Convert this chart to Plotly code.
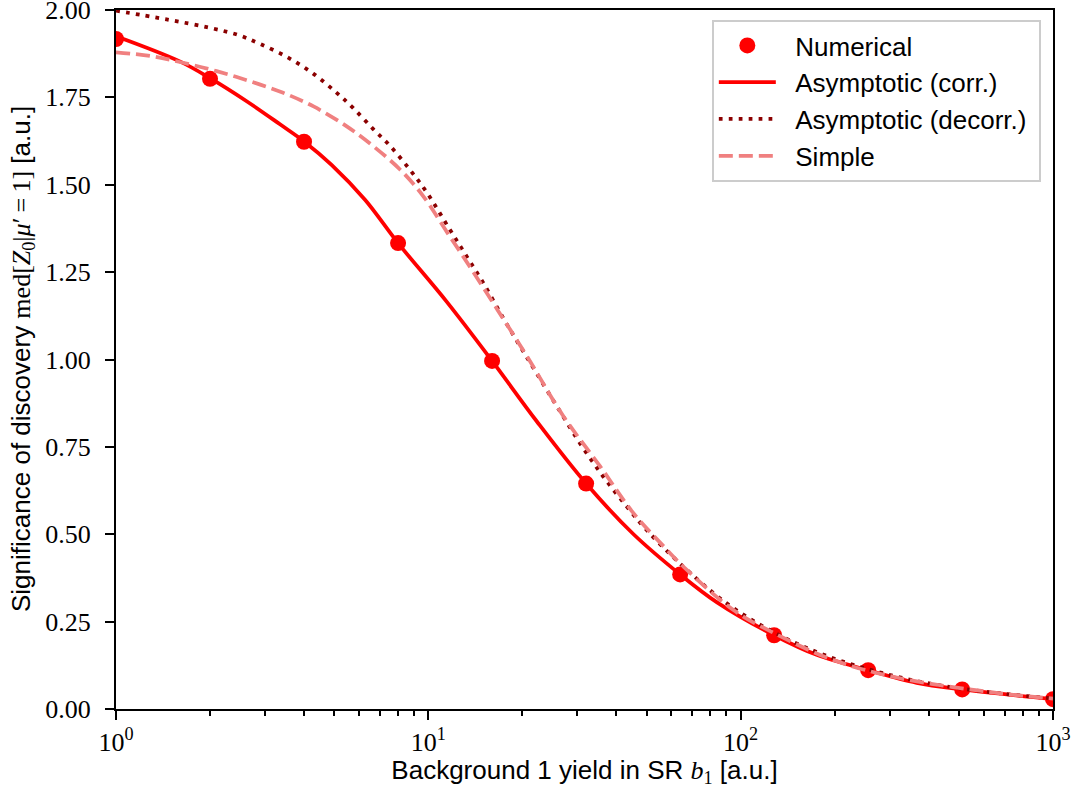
import plotly.graph_objects as go

# ---- data ----
num_x = [1, 2, 4, 8, 16, 32, 64, 128, 256, 512, 1000]
num_y = [1.917, 1.803, 1.623, 1.333, 0.996, 0.645, 0.385, 0.211, 0.111, 0.056, 0.028]

corr_x = [1, 1.6, 2, 2.62, 3.35, 4, 4.9, 6.27, 8, 11.46, 16, 22.2, 32, 45.4, 64, 84, 128, 175,
          256, 366, 512, 1000]
corr_y = [1.925, 1.853, 1.805, 1.739, 1.673, 1.624, 1.557, 1.457, 1.333, 1.165, 0.996, 0.824,
          0.645, 0.500, 0.385, 0.305, 0.211, 0.155, 0.111, 0.075, 0.056, 0.028]

decorr_x = [1, 1.452, 2, 2.49, 2.89, 3.52, 4.28, 5.09, 5.74, 6.65, 7.53, 8.73, 9.89, 11.73, 13.27, 15.0,
            17.38, 19.7, 22.2, 25.8, 30.6, 36.3, 43.2, 50, 64, 90, 128, 181, 256, 362, 512, 724, 1000]
decorr_y = [1.998, 1.973, 1.949, 1.927, 1.903, 1.866, 1.818, 1.763, 1.720, 1.660, 1.612, 1.543, 1.478,
            1.371, 1.295, 1.219, 1.118, 1.037, 0.961, 0.866, 0.760, 0.665, 0.579, 0.512, 0.416, 0.303,
            0.219, 0.158, 0.114, 0.081, 0.058, 0.042, 0.030]

simple_x = [1, 1.294, 1.641, 2.1, 2.69, 3.43, 4.29, 5.48, 6.67, 8.13, 9.64, 11.46, 12.6, 16.6, 20.7,
            27.1, 35.5, 45.3, 56.6, 65.6, 94.8, 128, 198, 324, 677, 1000]
simple_y = [1.879, 1.868, 1.849, 1.825, 1.796, 1.763, 1.724, 1.667, 1.610, 1.543, 1.467, 1.365, 1.310,
            1.144, 1.009, 0.837, 0.694, 0.561, 0.466, 0.407, 0.283, 0.217, 0.140, 0.088, 0.045, 0.030]

x_tickvals = [1, 10, 100, 1000]
x_ticktext = ["10<sup>0</sup>", "10<sup>1</sup>", "10<sup>2</sup>", "10<sup>3</sup>"]
x_minor = [k * 10 ** e for e in range(3) for k in range(2, 10)]
y_tickvals = [0, 0.25, 0.5, 0.75, 1.0, 1.25, 1.5, 1.75, 2.0]
y_ticktext = ["0.00", "0.25", "0.50", "0.75", "1.00", "1.25", "1.50", "1.75", "2.00"]

SANS = "Liberation Sans, Arial, sans-serif"
SERIF = "Liberation Serif, DejaVu Serif, serif"
NB = "\u00a0\u00a0"
NE = "\u00a0"

fig = go.Figure()
fig.add_trace(go.Scatter(x=num_x, y=num_y, mode="markers", name=NB + "Numerical" + NE,
                         marker=dict(color="red", size=16, line=dict(width=0))))
fig.add_trace(go.Scatter(x=corr_x, y=corr_y, mode="lines", name=NB + "Asymptotic (corr.)" + NE,
                         line=dict(color="red", width=3.75, shape="spline", smoothing=1)))
fig.add_trace(go.Scatter(x=decorr_x, y=decorr_y, mode="lines", name=NB + "Asymptotic (decorr.)" + NE,
                         line=dict(color="#8b0000", width=3.75, shape="spline", smoothing=1,
                                   dash="3.75px,6.2px")))
fig.add_trace(go.Scatter(x=simple_x, y=simple_y, mode="lines", name=NB + "Simple" + NE,
                         line=dict(color="#f08080", width=3.75, shape="spline", smoothing=1,
                                   dash="14px,6px")))

ytitle = ("Significance of discovery <span style='font-family:Liberation Serif'>med[<i>Z</i>"
          "<sub>0</sub>|<i>μ</i>′\u2009=\u20091]</span> [a.u.]")

fig.update_layout(
    width=1075, height=788,
    margin=dict(l=116, r=22, t=10, b=79),
    paper_bgcolor="white", plot_bgcolor="white",
    font=dict(family=SANS, size=26, color="black"),
    showlegend=True,
    legend=dict(x=0.987, xanchor="right", y=0.9857, yanchor="top",
                bgcolor="rgba(255,255,255,0.8)", bordercolor="#cccccc", borderwidth=2,
                font=dict(family=SANS, size=26), itemwidth=57, tracegroupgap=0),
    xaxis=dict(type="log", range=[0, 3], showgrid=False, zeroline=False, automargin=False,
               showline=True, linecolor="black", linewidth=2, mirror=True,
               ticks="outside", ticklen=9, tickwidth=2, tickcolor="black",
               tickvals=x_tickvals, ticktext=x_ticktext, ticklabeloverflow="allow",
               tickfont=dict(family=SERIF, size=26),
               minor=dict(tickvals=x_minor, ticks="outside", ticklen=5, tickwidth=1.5, tickcolor="black"),
               title=dict(text="Background 1 yield in SR <span style='font-family:Liberation Serif'><i>b</i><sub>1</sub></span> [a.u.]",
                          font=dict(family=SANS, size=26), standoff=6)),
    yaxis=dict(range=[0, 2], showgrid=False, zeroline=False, automargin=False,
               showline=True, linecolor="black", linewidth=2, mirror=True,
               ticks="outside", ticklen=9, tickwidth=2, tickcolor="black",
               tickvals=y_tickvals, ticktext=y_ticktext, ticklabelstandoff=9,
               ticklabeloverflow="allow",
               tickfont=dict(family=SERIF, size=26)),
    annotations=[dict(text=ytitle, textangle=-90, xref="paper", yref="paper",
                      x=(22.5 - 116) / 937, y=0.5, xanchor="center", yanchor="middle",
                      showarrow=False, font=dict(family=SANS, size=26))],
)

fig.write_html("out.html")
